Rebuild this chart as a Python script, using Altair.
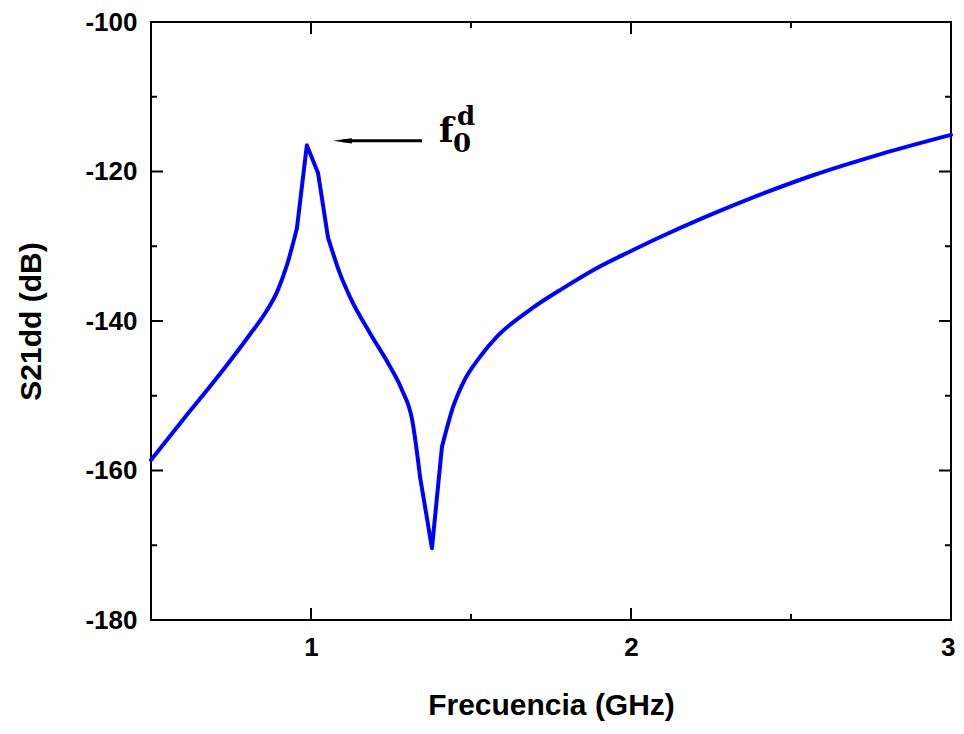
import altair as alt
import pandas as pd

# ---- data ----
freq_ghz = [0.5, 0.6, 0.706, 0.809, 0.862, 0.894, 0.925, 0.956, 0.987, 1.022,
            1.053, 1.09, 1.122, 1.184, 1.247, 1.284, 1.316, 1.341, 1.378, 1.409,
            1.444, 1.475, 1.528, 1.581, 1.684, 1.788, 1.894, 1.997, 2.1,
            2.362, 2.569, 2.778, 3.0]
s21dd_db = [-158.6, -153.2, -147.6, -141.8, -138.6, -136.1, -132.5, -127.6, -116.5, -120.2,
            -128.8, -133.6, -136.8, -141.6, -146.1, -149.2, -153.2, -160.9, -170.4, -156.9,
            -151.5, -148.3, -144.8, -142.1, -138.5, -135.6, -132.9, -130.7, -128.6,
            -123.8, -120.5, -117.7, -115.1]
# index ranges of the smooth and the straight (sharp) stretches of the curve
segments = [(0, 7, "monotone"), (7, 10, "linear"), (10, 17, "monotone"),
            (17, 19, "linear"), (19, 32, "monotone")]

x_ticks_major = [1, 2, 3]
x_ticks_minor = [1.5, 2.5]
y_ticks_major = [-180, -160, -140, -120, -100]
y_ticks_minor = [-170, -150, -130, -110]

arrow_f = [1.098, 1.347]
arrow_v = [-115.9, -115.9]

W, H = 800, 598
FONT = "Liberation Sans"

df = pd.DataFrame({"f": freq_ghz, "v": s21dd_db})

xscale = alt.Scale(domain=[0.5, 3], nice=False, zero=False)
yscale = alt.Scale(domain=[-180, -100], nice=False, zero=False)

xaxis = alt.Axis(values=x_ticks_major, labelExpr="toString(datum.value)", title="Frecuencia (GHz)",
                 ticks=False, domain=False, grid=False, labelPadding=14,
                 labelFlush=True, labelFlushOffset=4,
                 labelFontSize=26, labelFont=FONT, labelFontWeight="bold",
                 labelColor="black", titleFontSize=30, titleFont=FONT,
                 titleFontWeight="bold", titleColor="black", titlePadding=30)
yaxis = alt.Axis(values=y_ticks_major, labelExpr="toString(datum.value)", title="S21dd (dB)",
                 ticks=False, domain=False, grid=False, labelPadding=14, labelFlush=False,
                 labelFontSize=26, labelFont=FONT, labelFontWeight="bold",
                 labelColor="black", titleFontSize=30, titleFont=FONT,
                 titleFontWeight="bold", titleColor="black", titlePadding=38)

line_layers = []
for k, (a, b, interp) in enumerate(segments):
    seg = df.iloc[a:b + 1]
    if k == 0:
        enc_x = alt.X("f:Q", scale=xscale, axis=xaxis)
        enc_y = alt.Y("v:Q", scale=yscale, axis=yaxis)
    else:
        enc_x = alt.X("f:Q", scale=xscale)
        enc_y = alt.Y("v:Q", scale=yscale)
    line_layers.append(
        alt.Chart(seg).mark_line(color="#0000FF", strokeWidth=4, interpolate=interp,
                                 strokeCap="round", strokeJoin="round").encode(x=enc_x, y=enc_y)
    )


def yticks(vals, length):
    d = pd.DataFrame({"v": vals})
    left = alt.Chart(d).mark_rule(color="black", strokeWidth=2).encode(
        y=alt.Y("v:Q", scale=yscale), x=alt.value(0), x2=alt.value(length))
    right = alt.Chart(d).mark_rule(color="black", strokeWidth=2).encode(
        y=alt.Y("v:Q", scale=yscale), x=alt.value(W - length), x2=alt.value(W))
    return [left, right]


def xticks(vals, length):
    d = pd.DataFrame({"f": vals})
    bottom = alt.Chart(d).mark_rule(color="black", strokeWidth=2).encode(
        x=alt.X("f:Q", scale=xscale), y=alt.value(H - length), y2=alt.value(H))
    top = alt.Chart(d).mark_rule(color="black", strokeWidth=2).encode(
        x=alt.X("f:Q", scale=xscale), y=alt.value(0), y2=alt.value(length))
    return [bottom, top]


ticks = (yticks(y_ticks_major[1:-1], 12) + yticks(y_ticks_minor, 6)
         + xticks(x_ticks_major[:-1], 12) + xticks(x_ticks_minor, 6))

arrow_df = pd.DataFrame({"f": arrow_f, "v": arrow_v})
arrow_line = alt.Chart(arrow_df).mark_line(color="black", strokeWidth=3).encode(
    x=alt.X("f:Q", scale=xscale), y=alt.Y("v:Q", scale=yscale))
arrow_head = alt.Chart(arrow_df.iloc[[0]]).mark_point(
    shape="M -1 0 L 1 -0.27 L 1 0.27 Z", size=361, filled=True, color="black", opacity=1
).encode(x=alt.X("f:Q", scale=xscale), y=alt.Y("v:Q", scale=yscale))

ann = [("f", 1.40, -116.05, 34), ("0", 1.444, -117.4, 26), ("d", 1.456, -113.8, 26)]
ann_layers = []
for t, fx, vy, sz in ann:
    ann_layers.append(
        alt.Chart(pd.DataFrame({"f": [fx], "v": [vy], "t": [t]})).mark_text(
            font="DejaVu Serif", fontWeight="bold", fontSize=sz, color="black",
            align="left", baseline="alphabetic"
        ).encode(x=alt.X("f:Q", scale=xscale), y=alt.Y("v:Q", scale=yscale), text="t:N")
    )

chart = alt.layer(*line_layers, *ticks, arrow_line, arrow_head, *ann_layers).properties(
    width=W, height=H,
    background="white",
    autosize=alt.AutoSizeParams(type="none"),
    padding={"left": 143, "top": 14, "right": 5, "bottom": 110},
).configure_view(stroke="black", strokeWidth=2)

chart.save("out.html", embed_options={"renderer": "svg", "actions": False})
